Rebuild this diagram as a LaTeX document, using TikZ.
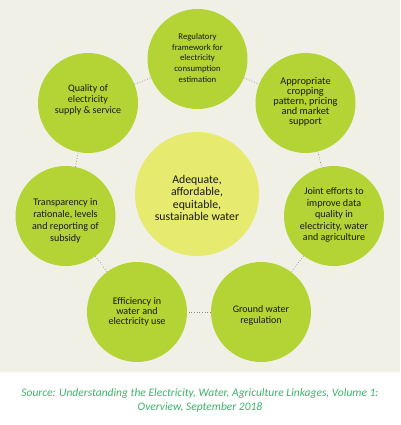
\documentclass[tikz,border=0pt]{standalone}
\usepackage{fontspec}
\setmainfont{Carlito}
\definecolor{bgbeige}{HTML}{F0F0E6}
\definecolor{outergreen}{HTML}{B4D334}
\definecolor{centeryellow}{HTML}{E6EA6E}
\definecolor{captiongreen}{HTML}{3DB46D}
\definecolor{dotgray}{HTML}{8A8A8A}
\begin{document}
\begin{tikzpicture}[x=1pt,y=-1pt,
  outer/.style={circle,fill=outergreen,draw=none,minimum size=100pt,inner sep=0pt},
  hub/.style={circle,fill=centeryellow,draw=none,minimum size=124pt,inner sep=0pt},
  label/.style={align=center,inner sep=0pt,text=black!90},
  link/.style={draw=dotgray,dotted,line width=0.7pt},
  caption/.style={font=\fontsize{11.5}{14}\selectfont\itshape,text=captiongreen,align=center}]
\useasboundingbox (0,0) rectangle (400,425);
\fill[white] (0,0) rectangle (400,425);
\fill[bgbeige] (0,0) rectangle (400,372);
% circles
\node[hub] (c) at (197,194) {};
\node[outer] (r) at (197.5,59) {};
\node[outer] (a) at (305.5,103) {};
\node[outer] (j) at (334,216) {};
\node[outer] (g) at (261,312) {};
\node[outer] (e) at (137,312) {};
\node[outer] (t) at (65.5,216) {};
\node[outer] (q) at (88,103) {};
% texts
\node[label,font=\fontsize{11.8}{12.4}\selectfont] (cT) at (197,198) {Adequate,\\affordable,\\equitable,\\sustainable water};
\node[label,font=\fontsize{8.7}{10.6}\selectfont] (rT) at (197.5,58) {Regulatory\\framework for\\electricity\\consumption\\estimation};
\node[label,font=\fontsize{10.3}{10}\selectfont] (aT) at (305.5,102) {Appropriate\\cropping\\pattern, pricing\\and market\\support};
\node[label,font=\fontsize{10.1}{11.5}\selectfont] (jT) at (334,215) {Joint efforts to\\improve data\\quality in\\electricity, water\\and agriculture};
\node[label,font=\fontsize{10}{11}\selectfont] (gT) at (261,315.5) {Ground water\\regulation};
\node[label,font=\fontsize{10.1}{10}\selectfont] (eT) at (137,312) {Efficiency in\\water and\\electricity use};
\node[label,font=\fontsize{10.1}{12}\selectfont] (tT) at (65.5,221) {Transparency in\\rationale, levels\\and reporting of\\subsidy};
\node[label,font=\fontsize{10}{11}\selectfont] (qT) at (88,100) {Quality of\\electricity\\supply \& service};
% dotted ring
\draw[link] (q) -- (r);
\draw[link] (r) -- (a);
\draw[link] (a) -- (j);
\draw[link] (j) -- (g);
\draw[link] (g) -- (e);
\draw[link] (e) -- (t);
\draw[link] (t) -- (q);
\node[caption] (src) at (200,400) {Source: Understanding the Electricity, Water, Agriculture Linkages, Volume 1:\\Overview, September 2018};
\end{tikzpicture}
\end{document}
